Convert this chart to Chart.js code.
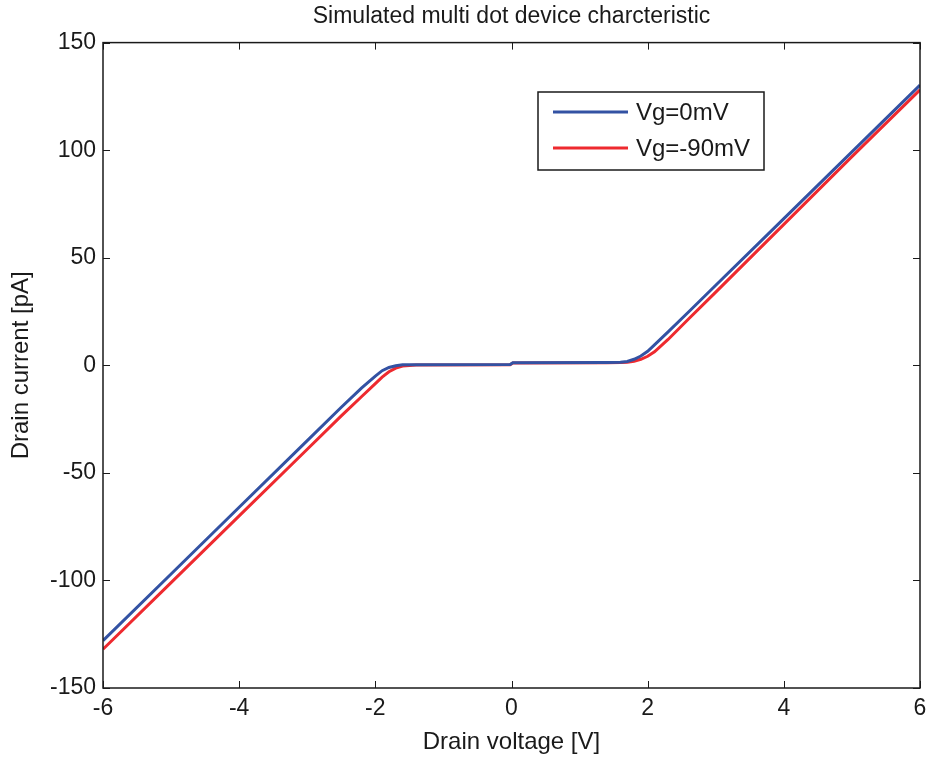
<!DOCTYPE html>
<html><head><meta charset="utf-8">
<script src="https://cdn.jsdelivr.net/npm/chart.js@4/dist/chart.umd.min.js"></script>
<style>html,body{margin:0;padding:0;background:#fff}#wrap{width:930px;height:759px}</style>
</head><body><div id="wrap"><canvas id="c" width="930" height="759"></canvas></div>
<script>
const voltage = [-6,-5,-4,-3,-2.5,-2.2,-2.0,-1.9,-1.8,-1.7,-1.6,-1.4,-0.02,0.02,1.4,1.6,1.7,1.8,1.9,2.0,2.1,2.3,2.6,3,4,5,6];
const currentVg0 = [-128,-97,-66,-35,-19.5,-10.5,-5,-2.5,-1,-0.2,0.2,0.3,0.4,1.2,1.3,1.4,1.8,2.8,4.3,6.5,9.5,15.5,24.8,37.2,68.2,99.2,130.2];
const currentVgm90 = [-132,-101,-70,-39,-23.5,-14.5,-8.5,-5.5,-3,-1.3,-0.3,0.1,0.3,1.1,1.2,1.3,1.4,1.9,2.8,4.2,6.3,12,21.5,34,65.5,97,128];
const seriesLabels = ['Vg=0mV','Vg=-90mV'];
const chartTitle = 'Simulated multi dot device charcteristic';
const xTitle = 'Drain voltage [V]';
const yTitle = 'Drain current [pA]';

const FONT = "'Liberation Sans', Arial, sans-serif";
const colors = ['#3352a3','#ee2a2f'];

const boxPlugin = {
  id:'box',
  afterDatasetsDraw(chart){
    const ctx = chart.ctx, a = chart.chartArea;
    const xs = chart.scales.x, ys = chart.scales.y;
    ctx.save();
    ctx.strokeStyle = '#1a1a1a';
    ctx.lineWidth = 1.5;
    ctx.strokeRect(a.left, a.top, a.right - a.left, a.bottom - a.top);
    ctx.lineWidth = 1;
    const tl = 7;
    ctx.beginPath();
    xs.ticks.forEach(t => {
      const px = Math.round(xs.getPixelForValue(t.value)) + 0.5;
      ctx.moveTo(px, a.bottom); ctx.lineTo(px, a.bottom - tl);
      ctx.moveTo(px, a.top); ctx.lineTo(px, a.top + tl);
    });
    ys.ticks.forEach(t => {
      const py = Math.round(ys.getPixelForValue(t.value)) + 0.5;
      ctx.moveTo(a.left, py); ctx.lineTo(a.left + tl, py);
      ctx.moveTo(a.right, py); ctx.lineTo(a.right - tl, py);
    });
    ctx.stroke();
    // legend
    const bx = 538, by = 92, bw = 226, bh = 78;
    ctx.fillStyle = '#fff';
    ctx.fillRect(bx, by, bw, bh);
    ctx.lineWidth = 1.5;
    ctx.strokeStyle = '#1a1a1a';
    ctx.strokeRect(bx, by, bw, bh);
    ctx.font = '24px ' + FONT;
    ctx.textBaseline = 'middle';
    ctx.textAlign = 'left';
    chart.data.datasets.forEach((ds, i) => {
      const yy = by + 20 + i * 36;
      ctx.strokeStyle = ds.borderColor;
      ctx.lineWidth = 3;
      ctx.beginPath(); ctx.moveTo(553, yy); ctx.lineTo(628, yy); ctx.stroke();
      ctx.fillStyle = '#1a1a1a';
      ctx.fillText(ds.label, 636, yy + 1);
    });
    ctx.restore();
  }
};

const mk = (arr) => voltage.map((v, i) => ({x: v, y: arr[i]}));

new Chart(document.getElementById('c'), {
  type: 'line',
  data: {
    datasets: [
      {label: seriesLabels[0], data: mk(currentVg0), borderColor: colors[0], borderWidth: 3, pointRadius: 0, tension: 0, fill: false},
      {label: seriesLabels[1], data: mk(currentVgm90), borderColor: colors[1], borderWidth: 3, pointRadius: 0, tension: 0, fill: false}
    ]
  },
  options: {
    responsive: false,
    animation: false,
    layout: {padding: {left: 0, right: 10, top: 0, bottom: 0}},
    plugins: {
      legend: {display: false},
      tooltip: {enabled: false},
      title: {display: true, fullSize: false, text: chartTitle, color: '#1a1a1a', font: {family: FONT, size: 23, weight: 'normal'}, padding: {top: 3, bottom: 12}}
    },
    scales: {
      x: {
        type: 'linear', min: -6, max: 6,
        grid: {display: false, drawTicks: false},
        border: {display: false},
        ticks: {stepSize: 2, color: '#1a1a1a', padding: 7, font: {family: FONT, size: 23}, maxRotation: 0},
        title: {display: true, text: xTitle, color: '#1a1a1a', font: {family: FONT, size: 24}, padding: {top: 0, bottom: 2}},
        afterFit(s){ s.height = 71; s.paddingRight = 0; s.paddingLeft = 0; }
      },
      y: {
        type: 'linear', min: -150, max: 150,
        grid: {display: false, drawTicks: false},
        border: {display: false},
        ticks: {stepSize: 50, color: '#1a1a1a', padding: 7, font: {family: FONT, size: 23}},
        title: {display: true, text: yTitle, color: '#1a1a1a', font: {family: FONT, size: 24}, padding: {top: 7, bottom: 0}},
        afterFit(s){ s.width = 103; }
      }
    }
  },
  plugins: [boxPlugin]
});
</script>
</body></html>
